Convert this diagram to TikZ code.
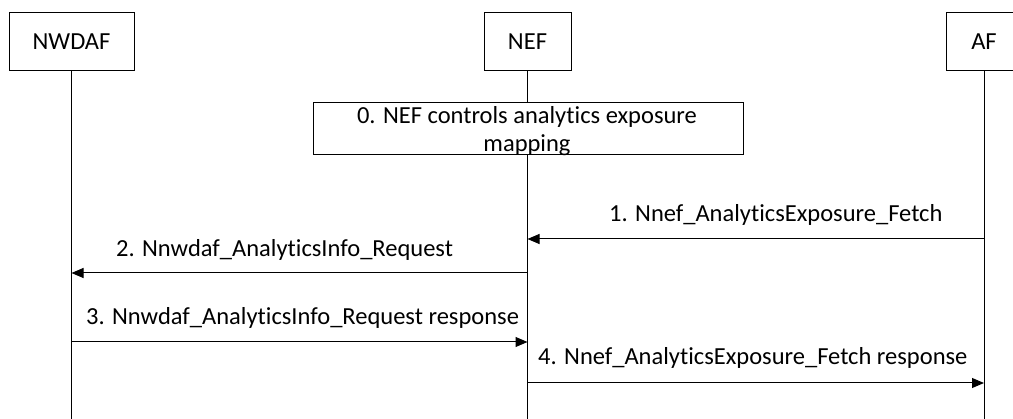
\documentclass[tikz,border=0pt]{standalone}
\usepackage{fontspec}
\setmainfont[Ligatures={NoCommon}]{Carlito}
\usetikzlibrary{arrows.meta}
\tikzset{
	entity/.style={draw, line width=1pt, inner sep=0pt, minimum height=58pt},
	stepbox/.style={draw, fill=white, line width=1pt, inner sep=0pt, minimum width=430pt, minimum height=52pt},
	msg/.style={line width=1pt, -{Triangle[length=12pt,width=10pt]}},
	msglabel/.style={anchor=base west, inner sep=0pt}
}

\begin{document}
\begin{tikzpicture}[x=1pt, y=-1pt, font=\fontsize{24.5}{28}\selectfont]
		%%%%% START %%%%%
		
		\useasboundingbox (0, 0) rectangle (1013, 419);
		
		\node[entity, minimum width=125pt] (nwdaf) at (71.5, 42) {NWDAF};
		\node[entity, minimum width=87pt] (nef) at (527.5, 42) {NEF};
		\node[entity, minimum width=76pt] (af) at (984, 42) {AF};
		
		\coordinate (bottom) at (0, 419);
		\draw[line width=1pt] (nwdaf.south) -- (nwdaf.south |- bottom);
		\draw[line width=1pt] (nef.south) -- (nef.south |- bottom);
		\draw[line width=1pt] (af.south) -- (af.south |- bottom);
		
		\node[stepbox] (step0) at (528, 129) {};
		\node[align=center, inner sep=0pt, anchor=north] (step0text) at (527, 106) {0. NEF controls analytics exposure\\mapping};
		
		\coordinate (r1) at (0, 239);
		\coordinate (r2) at (0, 273);
		\coordinate (r3) at (0, 342);
		\coordinate (r4) at (0, 383);
		
		\node[msglabel] (l1) at (609, 222) {1. Nnef\_AnalyticsExposure\_Fetch};
		\draw[msg] (af |- r1) -- (nef |- r1);
		
		\node[msglabel] (l2) at (116, 257) {2. Nnwdaf\_AnalyticsInfo\_Request};
		\draw[msg] (nef |- r2) -- (nwdaf |- r2);
		
		\node[msglabel] (l3) at (86, 325) {3. Nnwdaf\_AnalyticsInfo\_Request response};
		\draw[msg] (nwdaf |- r3) -- (nef |- r3);
		
		\node[msglabel] (l4) at (538, 365) {4. Nnef\_AnalyticsExposure\_Fetch response};
		\draw[msg] (nef |- r4) -- (af |- r4);
		
		%%%%% END %%%%%
\end{tikzpicture}
\end{document}
